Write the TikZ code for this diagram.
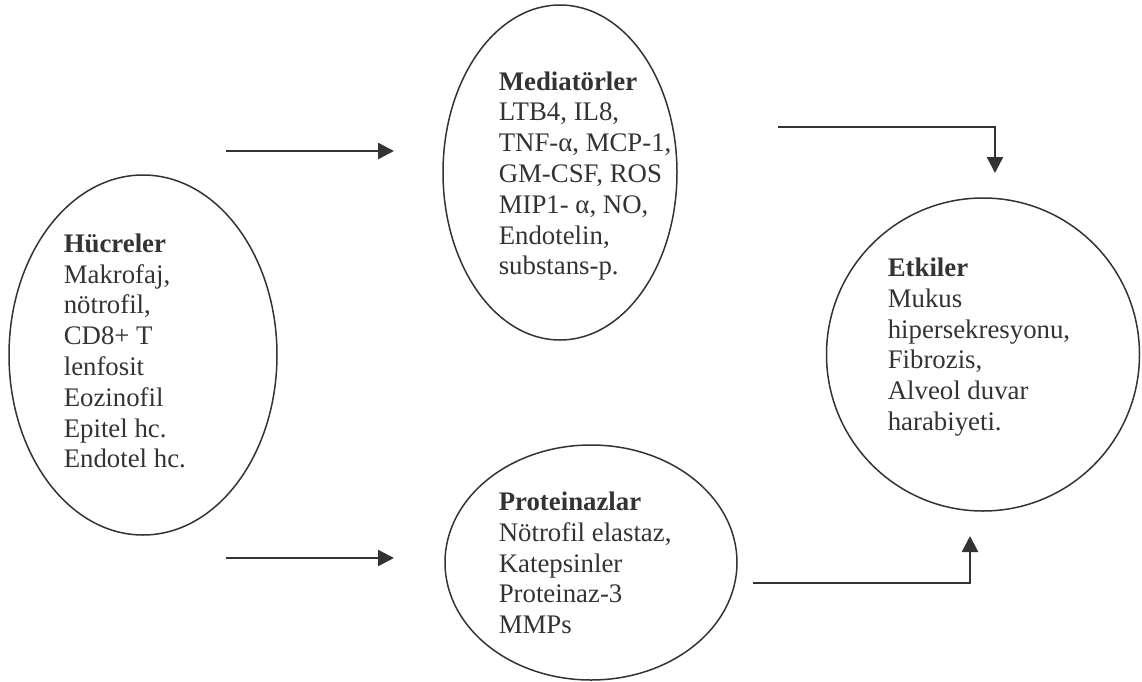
\documentclass[tikz,border=0pt]{standalone}
\usepackage{fontspec}
\setmainfont{Liberation Serif}
\usepackage{tikz}
\usetikzlibrary{shapes.geometric,arrows.meta}
\definecolor{ink}{HTML}{333336}
\newcommand{\bubblefont}{\fontsize{13.4pt}{15.4pt}\selectfont}

\begin{document}
\begin{tikzpicture}[x=0.5pt,y=-0.5pt,style=thick]
			\useasboundingbox (0,0) rectangle (1142,681);
			\tikzstyle{bubble}=[draw=ink,line width=0.75pt,ellipse,inner sep=0pt]
			\tikzstyle{blurb}=[text=ink,font=\bubblefont,align=left,anchor=base west,inner sep=0pt]
			\tikzstyle{flow}=[draw=ink,line width=1.2pt,-{Triangle[length=8pt,width=8pt]}]
			\begin{scope}
			\node[bubble,minimum width=134pt,minimum height=180pt] (cells) at (143,355) {};
			\node[bubble,minimum width=117pt,minimum height=167.5pt] (mediators) at (560,172.5) {};
			\node[bubble,minimum width=146pt,minimum height=117.5pt] (proteinases) at (591,562.5) {};
			\node[bubble,minimum width=156.5pt,minimum height=156.5pt] (effects) at (983,354.5) {};
			% base anchor = last line of each block
			\node[blurb] (cells_txt) at (63,467.8) {\textbf{Hücreler}\\Makrofaj,\\nötrofil,\\CD8+ T\\lenfosit\\Eozinofil\\Epitel hc.\\Endotel hc.};
			\node[blurb] (mediators_txt) at (498,274.9) {\textbf{Mediatörler}\\LTB4, IL8,\\TNF-α, MCP-1,\\GM-CSF, ROS\\MIP1- α, NO,\\Endotelin,\\substans-p.};
			\node[blurb] (proteinases_txt) at (498,633.6) {\textbf{Proteinazlar}\\Nötrofil elastaz,\\Katepsinler\\Proteinaz-3\\MMPs};
			\node[blurb] (effects_txt) at (887,430.5) {\textbf{Etkiler}\\Mukus\\hipersekresyonu,\\Fibrozis,\\Alveol duvar\\harabiyeti.};
			\coordinate (c2m_s) at (226,151);
			\coordinate (c2m_e) at (394,151);
			\coordinate (c2p_s) at (226,558);
			\coordinate (c2p_e) at (394,558);
			\coordinate (m2e_s) at (778,127);
			\coordinate (m2e_e) at (995,173);
			\coordinate (p2e_s) at (753,583);
			\coordinate (p2e_e) at (970,536);
			\draw [flow] (c2m_s) -- (c2m_e);
			\draw [flow] (c2p_s) -- (c2p_e);
			\draw [flow] (m2e_s) -| (m2e_e);
			\draw [flow] (p2e_s) -| (p2e_e);
			\end{scope}
		\end{tikzpicture}
\end{document}
